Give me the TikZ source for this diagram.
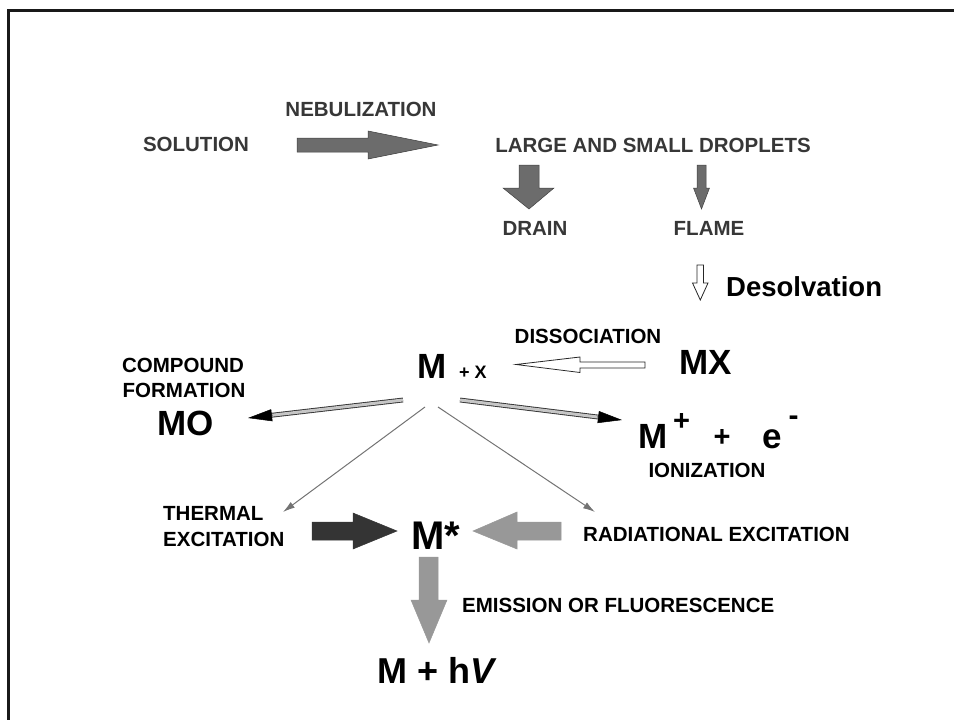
\documentclass[tikz,border=0pt]{standalone}
\usepackage{fontspec}
\setmainfont{Liberation Sans}
\usetikzlibrary{arrows.meta,calc}
\definecolor{txtgray}{RGB}{55,55,55}
\definecolor{arrgray}{RGB}{108,108,108}
\definecolor{darkarr}{RGB}{52,52,52}
\definecolor{lightarr}{RGB}{152,152,152}
\definecolor{linegray}{RGB}{115,115,115}
\begin{document}
\begin{tikzpicture}[x=1pt,y=-1pt,
  lbl/.style={font=\fontsize{20.5}{24}\selectfont\bfseries, inner sep=0pt, anchor=base},
  glbl/.style={lbl, text=txtgray},
  big/.style={font=\fontsize{35}{40}\selectfont\bfseries, inner sep=0pt, anchor=base west},
  blockarrow/.style={fill=#1, draw=black!75, line width=0.5pt, line join=miter},
  openarrow/.style={fill=white, draw=black!85, line width=0.8pt, line join=miter},
  thinarrow/.style={draw=linegray, line width=1pt, -{Latex[length=12pt,width=7pt]}},
  dblshaft/.style={draw=black!80, line width=0.9pt, double=gray!45, double distance=3pt},
  headtip/.style={draw=black, line width=0.5pt, -{Triangle[length=24pt,width=12pt]}}
]
\useasboundingbox (0,0) rectangle (954,720);
\draw[line width=2.5pt, black!90] (8.5,720) -- (8.5,10.5) -- (954,10.5);

% top row
\node[glbl] (sol) at (196,151) {SOLUTION};
\node[glbl] (neb) at (361,116) {NEBULIZATION};
\node[glbl] (drop) at (653,152) {LARGE AND SMALL DROPLETS};
\node[glbl] (drain) at (535,235) {DRAIN};
\node[glbl] (flame) at (709,235) {FLAME};
\node[font=\fontsize{27.5}{30}\selectfont\bfseries, inner sep=0pt, anchor=base west] (desolv) at (726,296) {Desolvation};

% block arrows (top)
\draw[blockarrow=arrgray] (297,138) -- (368,138) -- (368,131) -- (438,145) -- (368,159) -- (368,152) -- (297,152) -- cycle;
\draw[blockarrow=arrgray] (519,165) -- (539,165) -- (539,188) -- (554,188) -- (529,209) -- (503,188) -- (519,188) -- cycle;
\draw[blockarrow=arrgray] (697,165) -- (706,165) -- (706,188) -- (709.5,188) -- (701.5,209) -- (693.5,188) -- (697,188) -- cycle;
\draw[openarrow] (697,265) -- (703.5,265) -- (703.5,283) -- (708,283) -- (700.3,300) -- (692.5,283) -- (697,283) -- cycle;

% middle
\node[big] (m) at (417,378) {M};
\node[font=\fontsize{18}{20}\selectfont\bfseries, inner sep=0pt, anchor=base west] (px) at (459,378) {+ X};
\node[lbl] (diss) at (588,343) {DISSOCIATION};
\node[big, anchor=base] (mx) at (706,374) {MX};
\draw[openarrow] (645,362) -- (580,362) -- (580,357) -- (516,364.5) -- (580,372.5) -- (580,368) -- (645,368) -- cycle;

\node[lbl] (comp) at (183,372) {COMPOUND};
\node[lbl] (form) at (184,397) {FORMATION};
\node[big, anchor=base] (mo) at (186,435) {MO};

\node[big] (mplus) at (638,448) {M};
\node[font=\fontsize{29}{30}\selectfont\bfseries, inner sep=0pt] (sup) at (681.5,422) {+};
\node[font=\fontsize{29}{30}\selectfont\bfseries, inner sep=0pt] (plus) at (722,438) {+};
\node[font=\fontsize{35}{40}\selectfont\bfseries, inner sep=0pt, anchor=base west] (e) at (762,448) {e};
\node[font=\fontsize{30}{30}\selectfont\bfseries, inner sep=0pt] (minus) at (793.5,421) {-};
\node[lbl] (ion) at (707,477) {IONIZATION};

% connectors from M
\coordinate (moS) at (403,400);
\coordinate (moE) at (248,418);
\coordinate (ionS) at (460,400);
\coordinate (ionE) at (622,420);
\draw[dblshaft] (moS) -- ($(moE)!20pt!(moS)$);
\draw[headtip] ($(moE)!25pt!(moS)$) -- (moE);
\draw[dblshaft] (ionS) -- ($(ionE)!20pt!(ionS)$);
\draw[headtip] ($(ionE)!25pt!(ionS)$) -- (ionE);

\coordinate (tlS) at (425,407);
\coordinate (tlE) at (283,512);
\coordinate (trS) at (438,407);
\coordinate (trE) at (595,512);
\draw[thinarrow] (tlS) -- (tlE);
\draw[thinarrow] (trS) -- (trE);

% bottom
\node[lbl, anchor=base west] (therm) at (163,520) {THERMAL};
\node[lbl, anchor=base west] (exc) at (163,546) {EXCITATION};
\node[font=\fontsize{40}{44}\selectfont\bfseries, inner sep=0pt, anchor=base west] (mstar) at (411,549) {M*};
\node[lbl, anchor=base west] (rad) at (583,541) {RADIATIONAL EXCITATION};
\node[lbl, anchor=base west] (emis) at (462,612) {EMISSION OR FLUORESCENCE};
\node[font=\fontsize{36}{40}\selectfont\bfseries, inner sep=0pt, anchor=base west] (mhv) at (377,683) {M + h\textit{V}};

\draw[blockarrow=darkarr, draw=darkarr] (312,522) -- (353,522) -- (353,513) -- (397,531) -- (353,549) -- (353,540) -- (312,540) -- cycle;
\draw[blockarrow=lightarr, draw=lightarr] (561,522) -- (517,522) -- (517,512) -- (473,531) -- (517,549) -- (517,540) -- (561,540) -- cycle;
\draw[blockarrow=lightarr, draw=lightarr] (419,557) -- (438,557) -- (438,600) -- (447,600) -- (429,643) -- (411,600) -- (419,600) -- cycle;
\end{tikzpicture}
\end{document}
